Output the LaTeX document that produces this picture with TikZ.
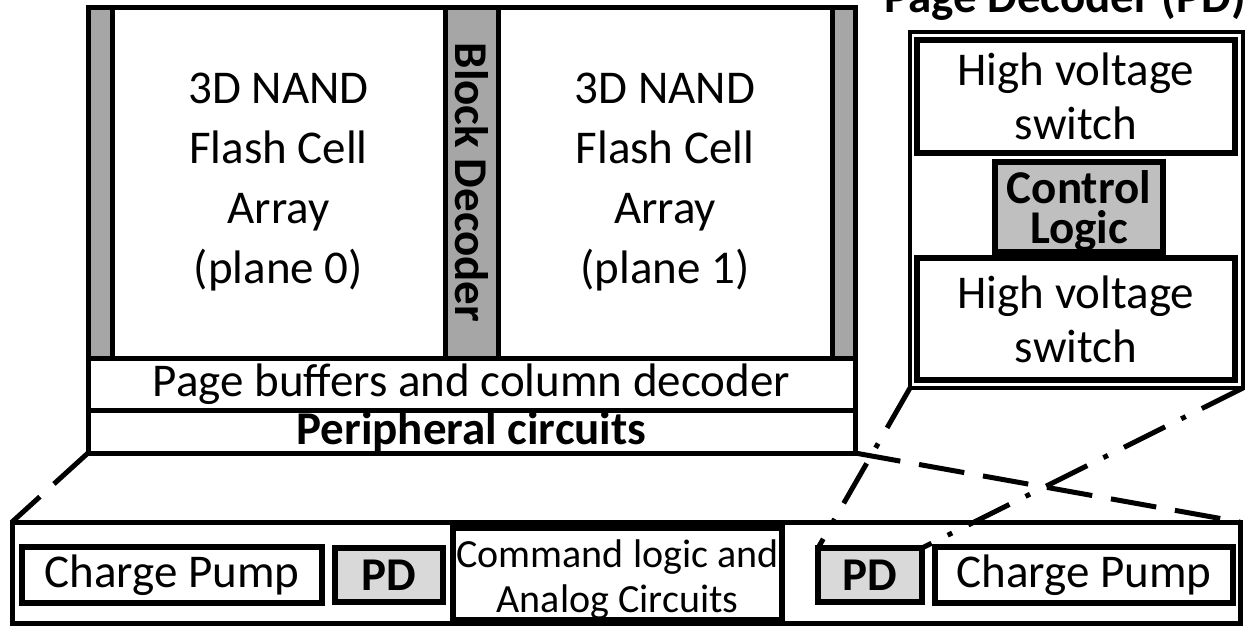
\documentclass[tikz,border=0pt]{standalone}
\usepackage{fontspec}
\setmainfont{Carlito}
\definecolor{stripgray}{HTML}{A6A6A6}
\definecolor{logicgray}{HTML}{BFBFBF}
\definecolor{pdgray}{HTML}{D9D9D9}
\tikzset{
  blk/.style={draw=black, line width=5pt, inner sep=0pt, outer sep=0pt,
              anchor=north west, align=center, font=\fontsize{47}{56}\selectfont},
  unit/.style={blk, line width=6pt},
  inlabel/.style={inner sep=0pt, align=center},
  dashconn/.style={line width=5pt, dash pattern=on 46pt off 19pt},
  dashdotconn/.style={line width=5pt, dash pattern=on 46pt off 18pt on 5pt off 18pt},
}
\newcommand{\boxat}[6]{% name, style, x1, y1, x2, y2, text follows
  \node[#2, minimum width={(#5-#3)*1pt}, minimum height={(#6-#4)*1pt}] (#1) at (#3,#4)}
\begin{document}
\begin{tikzpicture}[x=1pt, y=-1pt]
\useasboundingbox (0,0) rectangle (1250,627);

% ---- die floor plan ----
\boxat{chip}{blk}{88}{7}{855}{453} {};
\boxat{stripL}{blk, fill=stripgray}{88}{7}{112}{358} {};
\boxat{plane0}{blk, font=\fontsize{47}{60}\selectfont}{112}{7}{445}{358}
  {3D NAND\\Flash Cell\\Array\\(plane 0)};
\node[draw=black, line width=5pt, fill=stripgray, inner sep=0pt, outer sep=0pt,
      minimum width=351pt, minimum height=53pt, rotate=-90,
      font=\fontsize{47}{56}\selectfont\bfseries] (bdec) at (471.5,182.5) {Block Decoder};
\boxat{plane1}{blk, font=\fontsize{47}{60}\selectfont}{498}{7}{832}{358}
  {3D NAND\\Flash Cell\\Array\\(plane 1)};
\boxat{stripR}{blk, fill=stripgray}{832}{7}{855}{358} {};
\boxat{pagebuf}{blk}{88}{358}{855}{410} {Page buffers and column decoder};
\boxat{periph}{blk, font=\fontsize{47}{56}\selectfont\bfseries}{88}{410}{855}{453}
  {Peripheral circuits};

% ---- peripheral circuit strip ----
\boxat{base}{blk}{12}{522}{1240}{623} {};
\boxat{cpL}{unit}{22}{547}{322}{603} {Charge Pump};
\boxat{pdL}{unit, fill=pdgray, font=\fontsize{47}{56}\selectfont\bfseries}{335}{548}{443}{602} {PD};
\boxat{cmd}{unit, label={[name=cmdtext, inlabel, yshift=-6pt,
    font=\fontsize{40}{45}\selectfont]center:Command logic and\\Analog Circuits}}{453}{528}{782}{620} {};
\boxat{pdR}{unit, fill=pdgray, font=\fontsize{47}{56}\selectfont\bfseries}{818}{548}{922}{602} {PD};
\boxat{cpR}{unit}{935}{547}{1233}{603} {Charge Pump};

% ---- page decoder detail ----
\node[anchor=base east, inner sep=0pt, font=\fontsize{47}{56}\selectfont\bfseries]
  (pdtitle) at (1246,12) {Page Decoder (PD)};
\boxat{pdframe}{blk, line width=4pt}{910}{32}{1243}{388} {};
\boxat{hv1}{unit, font=\fontsize{47}{54}\selectfont}{917}{40}{1235}{153} {High voltage\\switch};
\boxat{ctrl}{unit, fill=logicgray, label={[name=ctrltext, inlabel, yshift=-4pt,
    font=\fontsize{47}{40}\selectfont\bfseries]center:Control\\Logic}}{995}{162}{1163}{252} {};
\boxat{hv2}{unit, font=\fontsize{47}{54}\selectfont}{917}{258}{1235}{380} {High voltage\\switch};

% ---- zoom connectors ----
\draw[dashconn] (chip.south west) -- (base.north west);
\draw[dashconn] (chip.south east) -- (base.north east);
\draw[dashdotconn] (pdframe.south west) -- (pdR.north west);
\draw[dashdotconn] (pdframe.south east) -- (pdR.north east);
\end{tikzpicture}
\end{document}
